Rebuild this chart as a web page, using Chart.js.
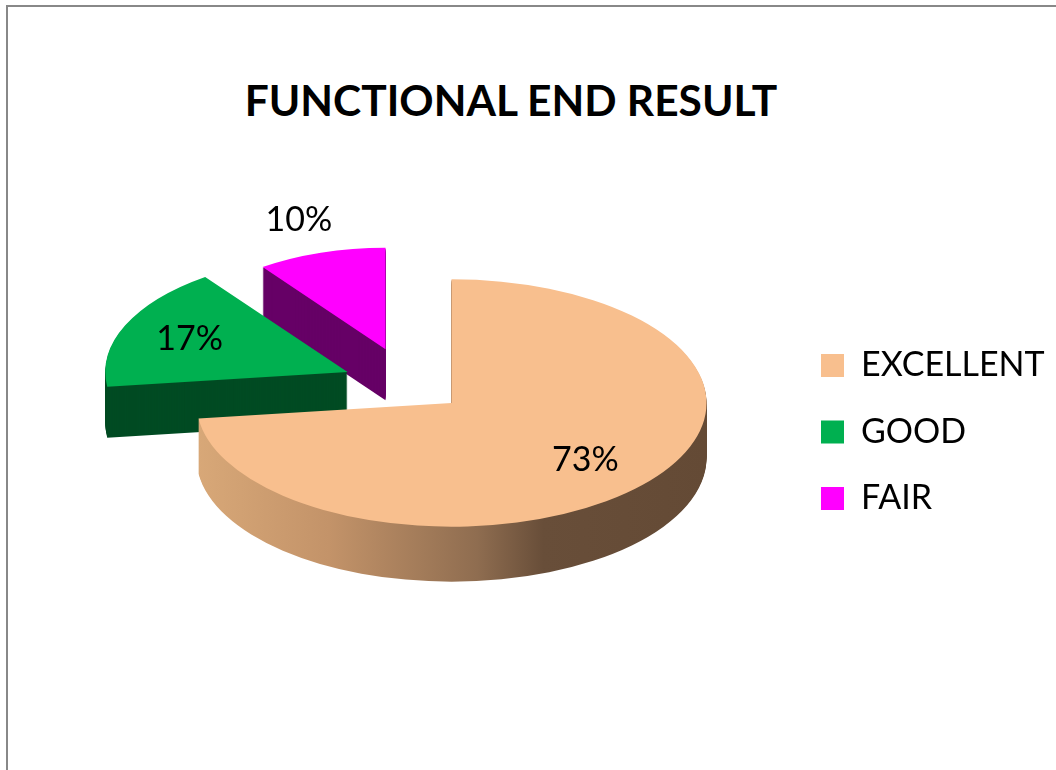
<!DOCTYPE html>
<html lang="en">
  <head>
    <meta charset="UTF-8" />
    <title>Functional end result</title>
    <style>
      html, body { margin: 0; padding: 0; background: #fff; overflow: hidden; }
      .frame {
        position: absolute; left: 6px; top: 5px; width: 1100px; height: 800px;
        border-left: 2px solid #888; border-top: 2px solid #888;
      }
      h1 {
        position: absolute; left: 0; top: 79px; width: 1022px; margin: 0;
        text-align: center; font: bold 42.5px/1 Lato, sans-serif; color: #000;
      }
      #pie { position: absolute; left: 0; top: 0; }
    </style>
  </head>
  <body>
    <div class="frame"></div>
    <h1>FUNCTIONAL END RESULT</h1>
    <canvas id="pie" width="1056" height="770"></canvas>
    <script src="https://cdn.jsdelivr.net/npm/chart.js"></script>
    <script>
      const labels = ["EXCELLENT", "GOOD", "FAIR"];
      const values = [73, 17, 10];

      const topColors = ["#F8BF8E", "#00B050", "#FF00FF"];
      const sideColors = [
        [[0, "#D8A878"], [0.26, "#C39369"], [0.55, "#8F6D50"], [0.68, "#684E39"], [1, "#644A35"]],
        "#004B23",
        "#660066",
      ];

      // fake 3d: flatten the pie, push slices out, stack darker copies below for the walls
      const pie3d = {
        id: "pie3d",
        beforeDatasetsDraw(chart, args, opts) {
          const ctx = chart.ctx;
          const arcs = chart.getDatasetMeta(0).data;
          const shift = arcs.map((a, i) => {
            const mid = (a.startAngle + a.endAngle) / 2;
            return { x: Math.cos(mid) * opts.explode[i], y: Math.sin(mid) * opts.explode[i] };
          });
          const order = arcs.map((a, i) => i).sort((p, q) => shift[p].y - shift[q].y);
          const enter = (a, i, dy) => {
            const f = opts.size[i];
            ctx.save();
            ctx.translate(a.x, a.y + dy);
            ctx.scale(1, opts.tilt);
            ctx.translate(shift[i].x, shift[i].y);
            ctx.scale(f, f);
            ctx.translate(-a.x, -a.y);
          };
          order.forEach((i) => {
            const a = arcs[i];
            let side = opts.sides[i];
            if (Array.isArray(side)) {
              const g = ctx.createLinearGradient(a.x - a.outerRadius, 0, a.x + a.outerRadius, 0);
              side.forEach(([stop, col]) => g.addColorStop(stop, col));
              side = g;
            }
            for (let d = opts.depth[i]; d > 0; d--) {
              enter(a, i, d);
              ctx.beginPath();
              ctx.moveTo(a.x, a.y);
              ctx.arc(a.x, a.y, a.outerRadius, a.startAngle, a.endAngle);
              ctx.closePath();
              ctx.fillStyle = side;
              ctx.fill();
              ctx.restore();
            }
            enter(a, i, 0);
            a.draw(ctx);
            ctx.restore();
          });
          return false;
        },
        afterDraw(chart, args, opts) {
          const ctx = chart.ctx;
          const arcs = chart.getDatasetMeta(0).data;
          const total = values.reduce((sum, v) => sum + v, 0);
          ctx.save();
          ctx.font = opts.font;
          ctx.fillStyle = "#000";
          ctx.textAlign = "center";
          ctx.textBaseline = "middle";
          arcs.forEach((a, i) => {
            const mid = (a.startAngle + a.endAngle) / 2;
            const r = opts.explode[i] + a.outerRadius * opts.size[i] * opts.labelAt[i];
            const x = a.x + Math.cos(mid) * r;
            const y = a.y + Math.sin(mid) * r * opts.tilt;
            ctx.fillText(Math.round((values[i] / total) * 100) + "%", x, y);
          });
          ctx.restore();
        },
      };

      new Chart(document.getElementById("pie"), {
        type: "pie",
        data: {
          labels: labels,
          datasets: [{ data: values, backgroundColor: topColors, borderWidth: 0 }],
        },
        options: {
          responsive: false,
          animation: false,
          events: [],
          radius: 255,
          layout: { padding: { left: 30.5, right: 5.5, top: 142, bottom: 142 } },
          plugins: {
            title: { display: false },
            legend: {
              position: "right",
              maxWidth: 262,
              title: { display: true, text: " ", font: { size: 12 }, padding: { top: 79.6, bottom: 0 } },
              labels: {
                boxWidth: 23,
                boxHeight: 23,
                padding: 32.5,
                color: "#000",
                font: { family: "Lato", size: 34 },
              },
            },
            tooltip: { enabled: false },
            pie3d: {
              tilt: 0.485,
              depth: [55, 51, 51],
              explode: [56, 67.5, 77.7],
              size: [1, 0.95, 0.82],
              labelAt: [0.7, 0.71, 1.34],
              sides: sideColors,
              font: "34px Lato",
            },
          },
        },
        plugins: [pie3d],
      });
    </script>
  </body>
</html>
